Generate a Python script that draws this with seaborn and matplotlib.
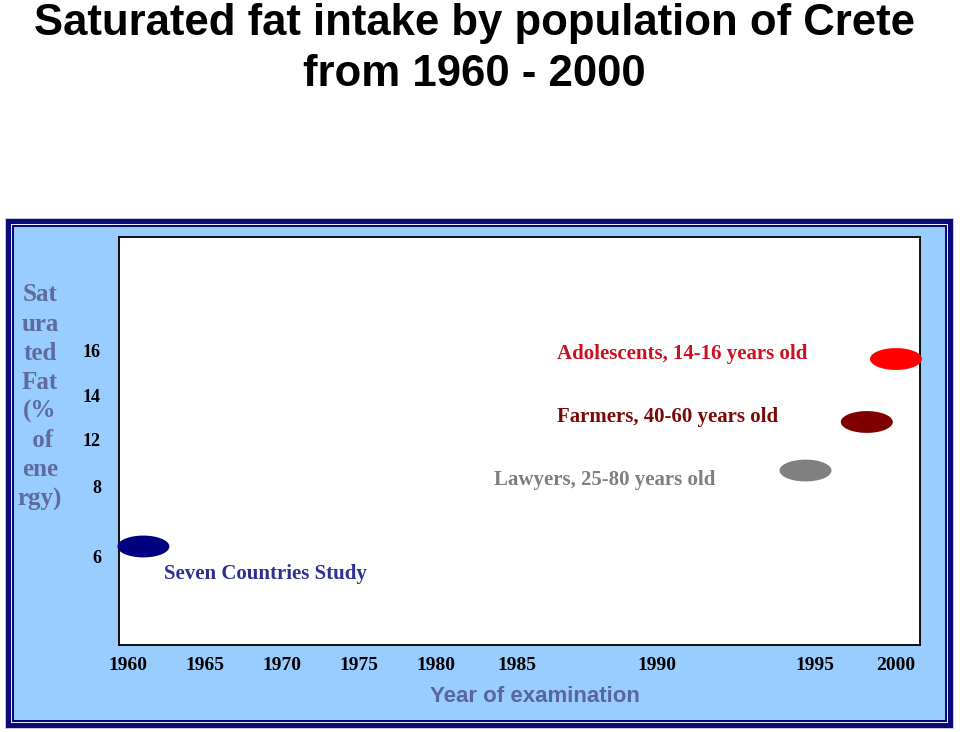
import numpy as np
import pandas as pd
import seaborn as sns
import matplotlib
matplotlib.use("Agg")
import matplotlib.pyplot as plt
from matplotlib.path import Path
from matplotlib.patches import Rectangle

# ---------------- data ----------------
groups = ["Seven Countries Study", "Lawyers, 25-80 years old",
          "Farmers, 40-60 years old", "Adolescents, 14-16 years old"]
years = [1961, 1994.7, 1998.2, 2000]
sat_fat = [6.3, 9.4, 12.8, 15.6]
x_ticks = [1960, 1965, 1970, 1975, 1980, 1985, 1990, 1995, 2000]
y_ticks = [6, 8, 12, 14, 16]

# ---------------- styles / layout ----------------
marker_colors = ["#000080", "#808080", "#800000", "#ff0000"]
label_colors = ["#2e3192", "#7f7f7f", "#7a0a0a", "#cc1020"]
label_pos = [(0.056, 0.174), (0.468, 0.404), (0.547, 0.559), (0.547, 0.713)]

# non-uniform axis scales (as on the original slide)
x_anchor_val = [1959.42] + x_ticks + [2001.48]
x_anchor_frac = [0, 0.0112, 0.1074, 0.2035, 0.2996, 0.3958, 0.4969,
                 0.6717, 0.8689, 0.9700, 1.0]
y_anchor_val = [3.49] + y_ticks + [21.02]
y_anchor_frac = [0, 0.2157, 0.3873, 0.5025, 0.6127, 0.7230, 1.0]

sns.set_theme(style="white")
plt.rcParams["font.family"] = ["Liberation Serif", "DejaVu Serif"]

W, H = 960, 732
fig = plt.figure(figsize=(W / 100, H / 100), dpi=100)
fig.patch.set_facecolor("white")


def frect(x0, y0, x1, y1, color, z):
    fig.patches.append(Rectangle((x0 / W, 1 - y1 / H), (x1 - x0) / W, (y1 - y0) / H,
                                 transform=fig.transFigure, facecolor=color,
                                 edgecolor="none", zorder=z))


# framed light-blue panel
frect(5, 218, 954, 729, "#c8c8dc", 0)
frect(6, 219, 953, 728, "#0a0a78", 1)
frect(11, 224, 948, 723, "#e8ecf8", 2)
frect(12, 225, 947, 722, "#0a0a78", 3)
frect(14, 227, 945, 720, "#99ccff", 4)

ax = fig.add_axes([119 / W, 1 - 645 / H, 801 / W, 408 / H])
ax.set_zorder(5)
ax.set_facecolor("white")

ax.set_xscale("function", functions=(lambda v: np.interp(v, x_anchor_val, x_anchor_frac),
                                     lambda f: np.interp(f, x_anchor_frac, x_anchor_val)))
ax.set_yscale("function", functions=(lambda v: np.interp(v, y_anchor_val, y_anchor_frac),
                                     lambda f: np.interp(f, y_anchor_frac, y_anchor_val)))

theta = np.linspace(0, 2 * np.pi, 120)
ellipse = Path(np.column_stack([np.cos(theta), 0.42 * np.sin(theta)]), closed=True)

df = pd.DataFrame({"year": years, "fat": sat_fat, "group": groups})
sns.scatterplot(data=df, x="year", y="fat", hue="group",
                palette=dict(zip(groups, marker_colors)), marker=ellipse,
                s=1400, linewidth=0, legend=False, ax=ax, clip_on=False, zorder=4)

ax.set_xlim(x_anchor_val[0], x_anchor_val[-1])
ax.set_ylim(y_anchor_val[0], y_anchor_val[-1])
ax.set_xticks(x_ticks)
ax.set_xticklabels([str(t) for t in x_ticks])
ax.set_yticks(y_ticks)
ax.set_yticklabels([str(t) for t in y_ticks])
ax.minorticks_off()
ax.tick_params(axis="x", length=0, pad=9, labelsize=14)
ax.tick_params(axis="y", length=0, pad=13, labelsize=13)
for lab in ax.get_xticklabels() + ax.get_yticklabels():
    lab.set_fontweight("bold")
    lab.set_color("black")
ax.set_xlabel("")
ax.set_ylabel("")
for sp in ax.spines.values():
    sp.set_visible(True)
    sp.set_color("black")
    sp.set_linewidth(1.3)

for g, c, (px, py) in zip(groups, label_colors, label_pos):
    ax.text(px, py, g, transform=ax.transAxes, ha="left", va="center",
            fontsize=15, fontweight="bold", color=c)

# axis titles
fig.text(40 / W, 1 - 397 / H, "Sat\nura\nted\nFat\n(%\n of\nene\nrgy)",
         ha="center", va="center", multialignment="center", fontsize=18,
         fontweight="bold", color="#5d6b9d", linespacing=1.335, zorder=6)
fig.text(535 / W, 1 - 697 / H, "Year of examination", ha="center", va="center",
         fontsize=16, fontweight="bold", color="#5a6699",
         family=["Liberation Sans", "DejaVu Sans"], zorder=6)

# title
fig.text(474 / W, 1 - 49 / H, "Saturated fat intake by population of Crete\nfrom 1960 - 2000",
         ha="center", va="center", fontsize=31.5, fontweight="bold", color="black",
         family=["Liberation Sans", "DejaVu Sans"], linespacing=1.3)

fig.savefig("out.png", dpi=100, facecolor="white")
